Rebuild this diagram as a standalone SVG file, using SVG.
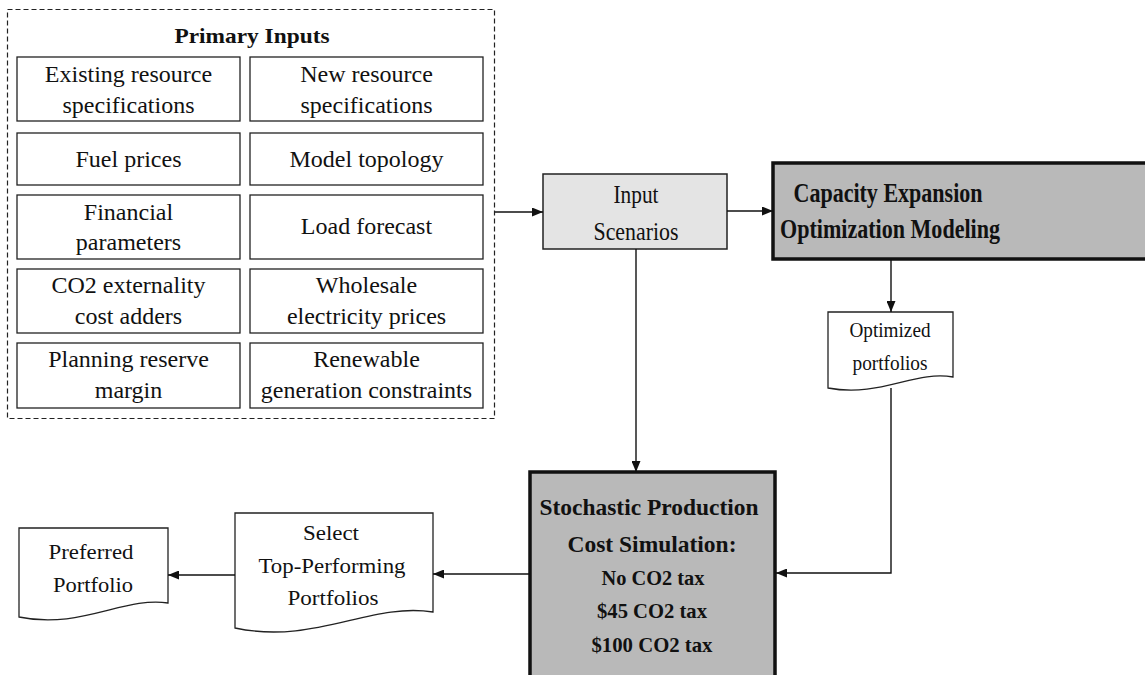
<svg xmlns="http://www.w3.org/2000/svg" width="1145" height="675" viewBox="0 0 1145 675">
<defs>
<marker id="ah" markerWidth="11" markerHeight="9" refX="11" refY="4.5" orient="auto" markerUnits="userSpaceOnUse">
<path d="M0,0 L11,4.5 L0,9 z" fill="#111"/>
</marker>
<style>
.t{font-family:"Liberation Serif","Times New Roman",serif;fill:#111;text-anchor:middle}
.r24{font-size:24px}
.r22{font-size:22px}
.b{font-weight:bold}
.box{fill:#fff;stroke:#222;stroke-width:1.3}
.light{fill:#e4e4e4;stroke:#222;stroke-width:1.5}
.dark{fill:#b9b9b9;stroke:#111;stroke-width:3.5}
.doc{fill:#fff;stroke:#222;stroke-width:1.3}
.con{fill:none;stroke:#111;stroke-width:1.4}
</style>
</defs>
<rect width="1145" height="675" fill="#fff"/>

<g id="primary-inputs">
<rect x="7.5" y="9.5" width="487" height="409" fill="none" stroke="#222" stroke-width="1.2" stroke-dasharray="5,3"/>
<text class="t b" x="252" y="43" font-size="21" textLength="155" lengthAdjust="spacingAndGlyphs">Primary Inputs</text>
</g>
<g id="existing-resource">
<rect class="box" x="17" y="57" width="223" height="64"/>
<text class="t r24" x="128.5" y="82">Existing resource</text>
<text class="t r24" x="128.5" y="113">specifications</text>
</g>
<g id="new-resource">
<rect class="box" x="250" y="57" width="233" height="64"/>
<text class="t r24" x="366.5" y="82">New resource</text>
<text class="t r24" x="366.5" y="113">specifications</text>
</g>
<g id="fuel-prices">
<rect class="box" x="17" y="133" width="223" height="52"/>
<text class="t r24" x="128.5" y="167">Fuel prices</text>
</g>
<g id="model-topology">
<rect class="box" x="250" y="133" width="233" height="52"/>
<text class="t r24" x="366.5" y="167">Model topology</text>
</g>
<g id="financial-parameters">
<rect class="box" x="17" y="195" width="223" height="64"/>
<text class="t r24" x="128.5" y="220">Financial</text>
<text class="t r24" x="128.5" y="250">parameters</text>
</g>
<g id="load-forecast">
<rect class="box" x="250" y="195" width="233" height="64"/>
<text class="t r24" x="366.5" y="234">Load forecast</text>
</g>
<g id="co2-externality">
<rect class="box" x="17" y="269" width="223" height="64"/>
<text class="t r24" x="128.5" y="293">CO2 externality</text>
<text class="t r24" x="128.5" y="324">cost adders</text>
</g>
<g id="wholesale-prices">
<rect class="box" x="250" y="269" width="233" height="64"/>
<text class="t r24" x="366.5" y="293">Wholesale</text>
<text class="t r24" x="366.5" y="324">electricity prices</text>
</g>
<g id="planning-reserve">
<rect class="box" x="17" y="343" width="223" height="65"/>
<text class="t r24" x="128.5" y="367">Planning reserve</text>
<text class="t r24" x="128.5" y="398">margin</text>
</g>
<g id="renewable-constraints">
<rect class="box" x="250" y="343" width="233" height="65"/>
<text class="t r24" x="366.5" y="367">Renewable</text>
<text class="t r24" x="366.5" y="398">generation constraints</text>
</g>

<g id="input-scenarios">
<rect class="light" x="543" y="174" width="184" height="75"/>
<text class="t" x="636" y="203" font-size="26" textLength="45" lengthAdjust="spacingAndGlyphs">Input</text>
<text class="t" x="636" y="240" font-size="26" textLength="85" lengthAdjust="spacingAndGlyphs">Scenarios</text>
</g>

<g id="capacity-expansion">
<rect class="dark" x="773" y="163" width="380" height="96"/>
<text class="t b" x="888" y="202" font-size="27" textLength="189" lengthAdjust="spacingAndGlyphs">Capacity Expansion</text>
<text class="t b" x="890" y="238" font-size="27" textLength="220" lengthAdjust="spacingAndGlyphs">Optimization Modeling</text>
</g>

<g id="optimized-portfolios">
<path class="doc" d="M828,312 H953 V377 C915,370 880,398 828,388 Z"/>
<text class="t r22" x="890" y="337" textLength="81" lengthAdjust="spacingAndGlyphs">Optimized</text>
<text class="t r22" x="890" y="370" textLength="75" lengthAdjust="spacingAndGlyphs">portfolios</text>
</g>

<g id="stochastic-simulation">
<rect class="dark" x="530" y="472" width="245" height="215"/>
<text class="t b" x="649" y="515" font-size="24" textLength="219" lengthAdjust="spacingAndGlyphs">Stochastic Production</text>
<text class="t b" x="652" y="552" font-size="24" textLength="169" lengthAdjust="spacingAndGlyphs">Cost Simulation:</text>
<text class="t b" x="653" y="585" font-size="21" textLength="103" lengthAdjust="spacingAndGlyphs">No CO2 tax</text>
<text class="t b" x="652" y="618" font-size="21" textLength="110" lengthAdjust="spacingAndGlyphs">$45 CO2 tax</text>
<text class="t b" x="652" y="652" font-size="21" textLength="121" lengthAdjust="spacingAndGlyphs">$100 CO2 tax</text>
</g>

<g id="select-top">
<path class="doc" d="M235,513 H433 V612 C370,602 315,645 235,628 Z"/>
<text class="t r22" x="331" y="540" textLength="56" lengthAdjust="spacingAndGlyphs">Select</text>
<text class="t r22" x="332" y="573" textLength="147" lengthAdjust="spacingAndGlyphs">Top-Performing</text>
<text class="t r22" x="333" y="605" textLength="91" lengthAdjust="spacingAndGlyphs">Portfolios</text>
</g>

<g id="preferred-portfolio">
<path class="doc" d="M19,528 H168 V603 C125,596 80,630 19,617 Z"/>
<text class="t r22" x="91" y="559" textLength="85" lengthAdjust="spacingAndGlyphs">Preferred</text>
<text class="t r22" x="93" y="592" textLength="80" lengthAdjust="spacingAndGlyphs">Portfolio</text>
</g>

<g id="connectors">
<path class="con" d="M495,212 H543" marker-end="url(#ah)"/>
<path class="con" d="M727,211 H773" marker-end="url(#ah)"/>
<path class="con" d="M891,259 V312" marker-end="url(#ah)"/>
<path class="con" d="M891,388 V573 H776" marker-end="url(#ah)"/>
<path class="con" d="M636,249 V472" marker-end="url(#ah)"/>
<path class="con" d="M530,574 H433" marker-end="url(#ah)"/>
<path class="con" d="M235,575 H168" marker-end="url(#ah)"/>
</g>
</svg>
